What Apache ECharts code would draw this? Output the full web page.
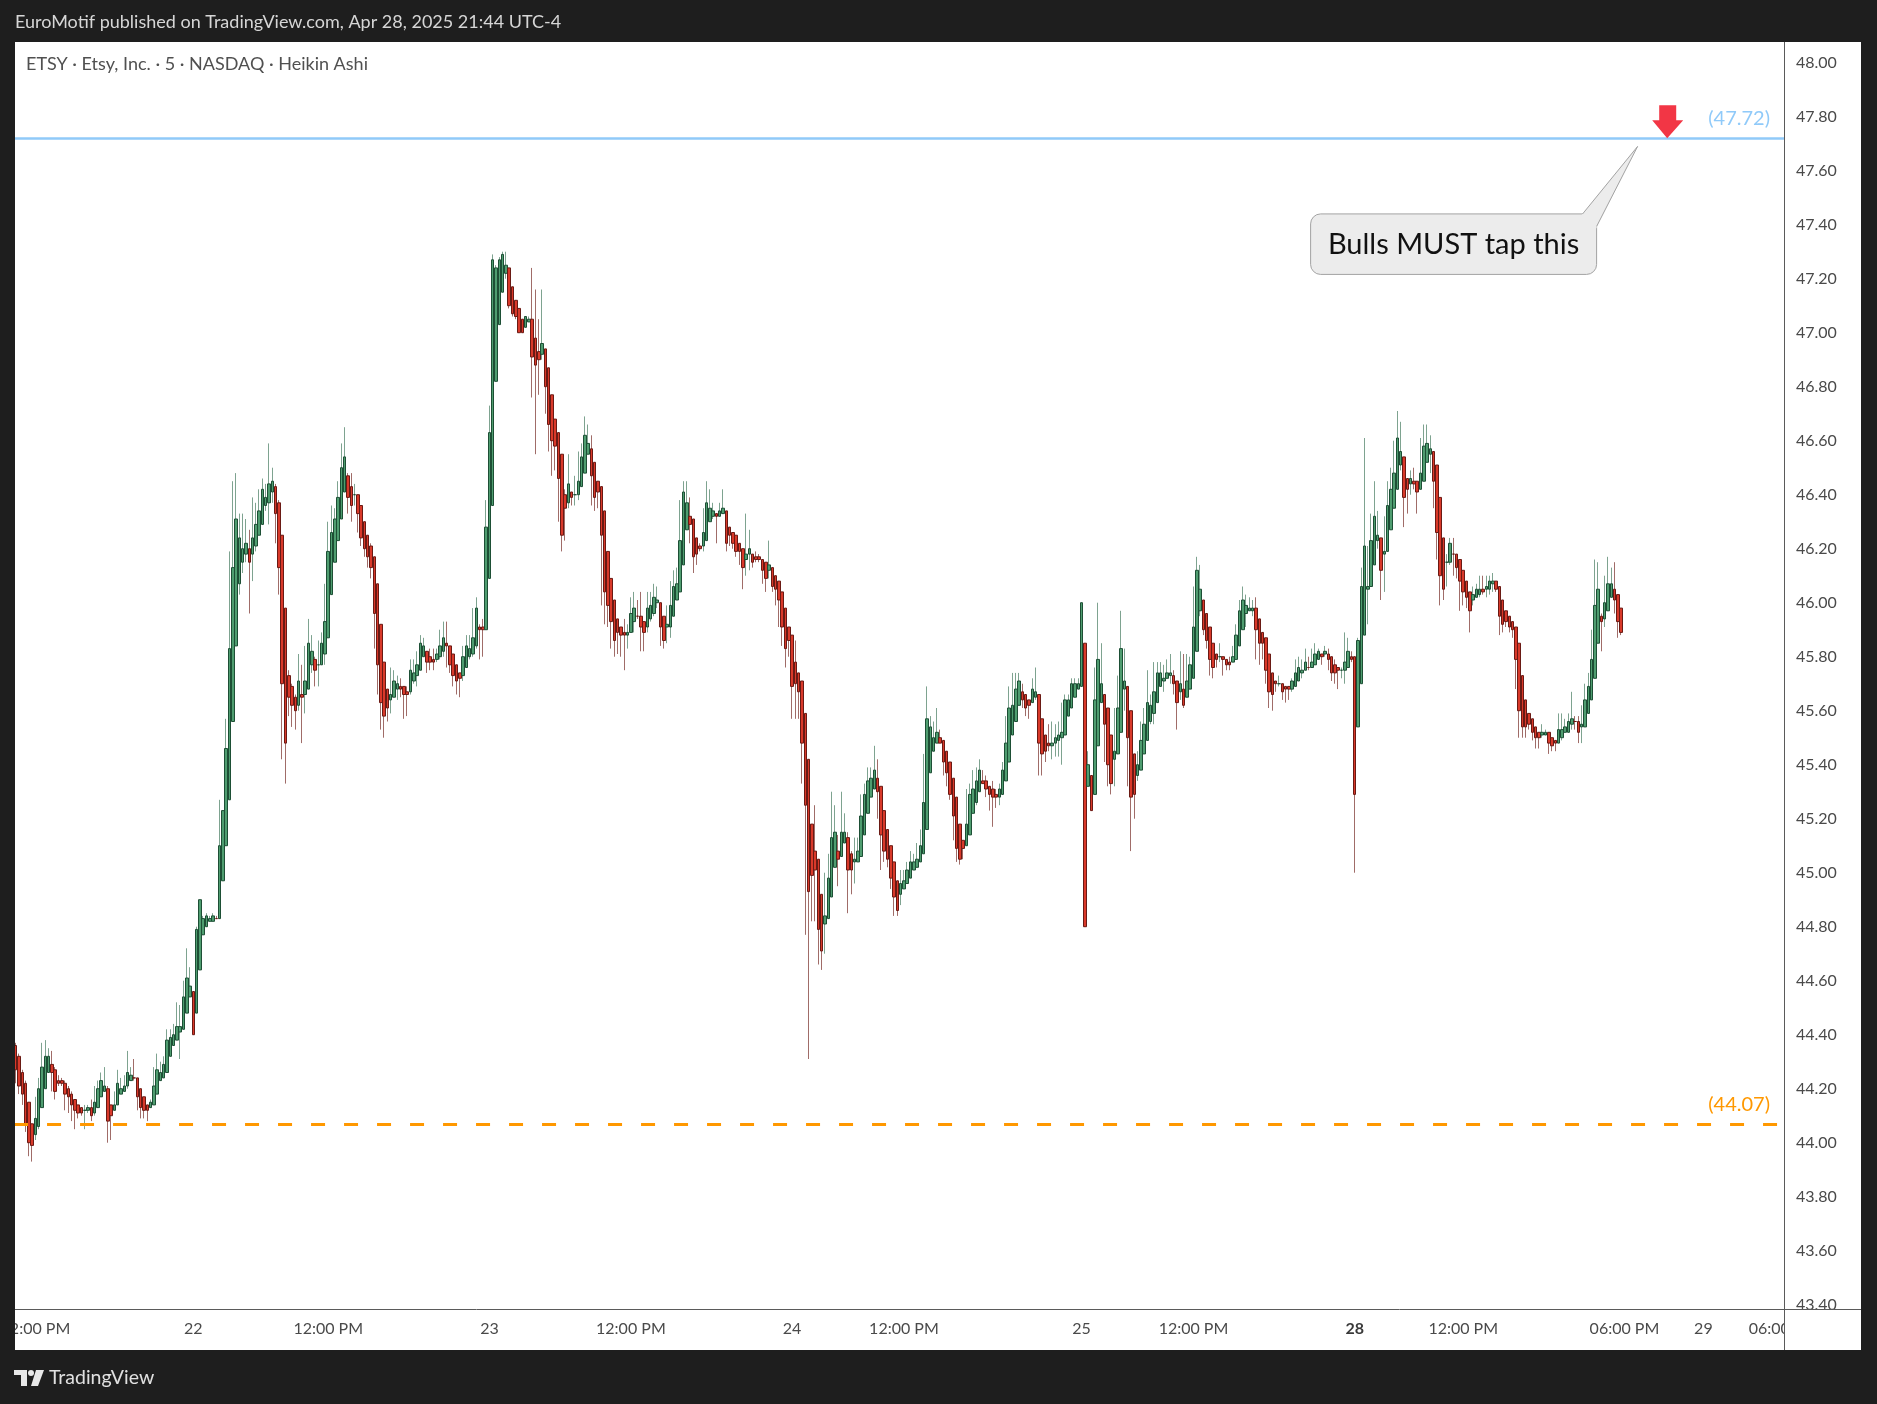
<!DOCTYPE html>
<html><head><meta charset="utf-8">
<script src="https://cdn.jsdelivr.net/npm/echarts@6.0.0/dist/echarts.min.js"></script>
<style>html,body{margin:0;padding:0;background:#1e1e1e;overflow:hidden}#chart{width:1877px;height:1404px}</style>
</head><body><div id="chart"></div>
<script>
// Heikin Ashi 5-min candles, each [open, close, low, high]
const apr21 = [
[44.36,44.27,44.22,44.37],[44.32,44.21,44.18,44.33],[44.26,44.18,44.14,44.27],[44.22,44.07,44.04,44.23],[44.15,44.00,43.95,44.15],
[44.07,43.99,43.93,44.07],[44.03,44.09,44.01,44.17],[44.06,44.20,44.05,44.24],[44.13,44.28,44.13,44.37],[44.20,44.32,44.20,44.38],
[44.26,44.32,44.26,44.35],[44.29,44.26,44.19,44.34],[44.27,44.19,44.16,44.28],[44.23,44.22,44.21,44.25],[44.23,44.22,44.21,44.24],
[44.22,44.18,44.12,44.23],[44.20,44.17,44.11,44.21],[44.18,44.14,44.08,44.19],[44.16,44.12,44.05,44.16],[44.14,44.11,44.09,44.14],
[44.13,44.11,44.10,44.13],[44.12,44.12,44.05,44.14],[44.12,44.13,44.11,44.14],[44.13,44.10,44.08,44.16],[44.11,44.15,44.10,44.21],
[44.13,44.20,44.13,44.23],[44.17,44.23,44.17,44.26],[44.19,44.21,44.19,44.28],[44.20,44.08,44.00,44.21],[44.14,44.10,44.01,44.14],
[44.12,44.14,44.12,44.19],[44.14,44.22,44.14,44.27],[44.18,44.20,44.18,44.24],[44.19,44.21,44.19,44.25],[44.21,44.26,44.20,44.34],
[44.23,44.25,44.23,44.28],[44.24,44.24,44.23,44.31],[44.24,44.17,44.12,44.24],[44.20,44.13,44.09,44.20],[44.17,44.12,44.09,44.17],
[44.14,44.12,44.08,44.14],[44.13,44.15,44.13,44.16],[44.14,44.21,44.14,44.28],[44.18,44.27,44.18,44.33],[44.23,44.26,44.23,44.30],
[44.24,44.29,44.24,44.32],[44.26,44.38,44.26,44.42],[44.32,44.39,44.32,44.42],[44.36,44.40,44.36,44.44],[44.38,44.43,44.38,44.52],
[44.41,44.43,44.31,44.51],[44.42,44.54,44.42,44.60],[44.48,44.61,44.48,44.72],[44.54,44.58,44.54,44.65]
];
const apr22 = [
[44.56,44.40,44.40,44.56],[44.48,44.79,44.48,44.80],[44.64,44.90,44.64,44.90],[44.77,44.83,44.77,44.84],[44.80,44.84,44.80,44.85],
[44.82,44.83,44.82,44.84],[44.82,44.84,44.82,44.85],[44.83,44.83,44.83,44.84],[44.83,45.10,44.83,45.27],[44.97,45.23,44.97,45.23],
[45.10,45.46,45.10,45.57],[45.27,45.83,45.27,46.19],[45.56,46.13,45.56,46.45],[45.84,46.31,45.84,46.48],[46.07,46.24,46.03,46.33],
[46.15,46.20,46.11,46.33],[46.18,46.22,46.15,46.31],[46.20,46.15,45.96,46.27],[46.18,46.24,46.08,46.39],[46.21,46.29,46.19,46.37],
[46.25,46.34,46.25,46.42],[46.29,46.42,46.29,46.46],[46.36,46.39,46.34,46.44],[46.37,46.44,46.29,46.59],[46.41,46.45,46.37,46.50],
[46.43,46.33,46.22,46.44],[46.37,46.13,46.03,46.38],[46.25,45.70,45.42,46.25],[45.98,45.48,45.33,45.98],[45.73,45.65,45.58,45.75],
[45.69,45.62,45.54,45.70],[45.65,45.60,45.53,45.66],[45.62,45.71,45.60,45.81],[45.66,45.65,45.48,45.77],[45.66,45.71,45.59,45.84],
[45.68,45.85,45.68,45.94],[45.77,45.82,45.74,45.88],[45.79,45.75,45.69,45.80],[45.77,45.77,45.69,45.86],[45.77,45.85,45.77,45.89],
[45.81,45.93,45.77,46.07],[45.87,46.19,45.87,46.30],[46.03,46.26,46.03,46.36],[46.15,46.31,46.15,46.35],[46.23,46.39,46.23,46.45],
[46.31,46.50,46.31,46.59],[46.41,46.54,46.41,46.65],[46.47,46.39,46.33,46.48],[46.43,46.36,46.30,46.48],[46.40,46.40,46.36,46.44],
[46.40,46.33,46.26,46.40],[46.36,46.24,46.21,46.36],[46.30,46.20,46.17,46.30],[46.25,46.17,46.13,46.25],[46.21,46.13,46.09,46.22],
[46.17,45.96,45.83,46.17],[46.07,45.77,45.66,46.07],[45.92,45.63,45.53,45.92],[45.78,45.58,45.50,45.78],[45.68,45.61,45.56,45.68],
[45.64,45.66,45.59,45.76],[45.65,45.71,45.65,45.75],[45.68,45.70,45.64,45.73],[45.69,45.68,45.65,45.72],[45.69,45.66,45.57,45.69],
[45.67,45.66,45.58,45.69],[45.67,45.75,45.66,45.79],[45.71,45.74,45.70,45.79],[45.73,45.77,45.69,45.82],[45.75,45.85,45.75,45.88],
[45.80,45.84,45.80,45.87],[45.82,45.78,45.74,45.82],[45.80,45.78,45.75,45.83],[45.79,45.78,45.75,45.83],[45.79,45.81,45.78,45.83],
[45.80,45.84,45.79,45.90],[45.82,45.87,45.80,45.93],[45.85,45.84,45.76,45.93],[45.84,45.77,45.74,45.84],[45.81,45.73,45.69,45.81],
[45.77,45.71,45.66,45.77],[45.74,45.72,45.65,45.74],[45.73,45.80,45.71,45.84],[45.76,45.84,45.76,45.88],[45.80,45.83,45.79,45.88],
[45.81,45.87,45.80,45.98],[45.84,45.98,45.83,46.02],[45.91,45.90,45.79,45.92],[45.91,45.90,45.80,45.94],[45.90,46.28,45.90,46.38]
];
const apr23 = [
[46.09,46.63,46.09,46.73],[46.36,47.27,46.36,47.29],[46.82,47.24,46.82,47.25],[47.03,47.27,47.03,47.28],[47.15,47.29,47.15,47.30],
[47.22,47.25,47.20,47.30],[47.24,47.10,47.09,47.24],[47.17,47.07,47.06,47.17],[47.12,47.06,47.05,47.12],[47.09,47.00,47.00,47.09],
[47.05,47.00,47.00,47.05],[47.02,47.06,47.02,47.06],[47.04,47.05,47.04,47.06],[47.05,46.91,46.76,47.24],[46.98,46.88,46.55,47.16],
[46.93,46.90,46.77,47.05],[46.92,46.96,46.90,47.16],[46.94,46.80,46.70,46.94],[46.87,46.66,46.56,46.87],[46.77,46.60,46.47,46.77],
[46.68,46.58,46.49,46.68],[46.63,46.46,46.30,46.63],[46.55,46.25,46.19,46.55],[46.40,46.35,46.23,46.42],[46.37,46.44,46.35,46.55],
[46.41,46.39,46.36,46.41],[46.40,46.40,46.36,46.47],[46.40,46.45,46.38,46.56],[46.43,46.54,46.43,46.59],[46.48,46.62,46.48,46.69],
[46.55,46.59,46.55,46.66],[46.57,46.47,46.36,46.62],[46.52,46.39,46.34,46.52],[46.45,46.41,46.35,46.45],[46.43,46.25,45.99,46.43],
[46.34,46.04,45.92,46.34],[46.19,45.99,45.91,46.19],[46.09,45.93,45.83,46.09],[46.01,45.86,45.80,46.01],[45.94,45.89,45.81,45.94],
[45.91,45.88,45.80,45.91],[45.89,45.88,45.75,45.94],[45.88,45.89,45.83,45.92],[45.89,45.96,45.89,46.02],[45.93,45.98,45.89,46.04],
[45.95,45.95,45.94,46.01],[45.95,45.91,45.82,46.04],[45.93,45.89,45.82,45.93],[45.91,45.98,45.89,46.04],[45.94,45.99,45.93,46.04],
[45.96,46.02,45.95,46.07],[46.00,46.01,45.98,46.06],[46.00,45.91,45.84,46.00],[45.95,45.86,45.83,45.95],[45.91,45.92,45.85,45.99],
[45.91,45.99,45.87,46.08],[45.95,46.06,45.95,46.12],[46.01,46.07,46.01,46.13],[46.04,46.23,46.04,46.38],[46.14,46.41,46.14,46.45],
[46.27,46.37,46.27,46.45],[46.32,46.29,46.22,46.39],[46.31,46.17,46.11,46.31],[46.24,46.18,46.14,46.24],[46.21,46.20,46.19,46.22],
[46.21,46.26,46.19,46.35],[46.23,46.37,46.23,46.45],[46.30,46.35,46.30,46.42],[46.32,46.34,46.31,46.37],[46.33,46.32,46.22,46.33],
[46.32,46.34,46.32,46.37],[46.33,46.35,46.33,46.42],[46.34,46.22,46.19,46.34],[46.28,46.25,46.21,46.28],[46.26,46.22,46.20,46.26],
[46.25,46.19,46.17,46.25],[46.22,46.19,46.14,46.22],[46.20,46.13,46.05,46.20],[46.16,46.18,46.10,46.33],[46.18,46.20,46.12,46.27],
[46.18,46.15,46.13,46.18],[46.17,46.16,46.15,46.19],[46.17,46.16,46.15,46.18],[46.16,46.12,46.07,46.16],[46.15,46.09,46.04,46.15],
[46.12,46.14,46.09,46.23],[46.13,46.06,46.04,46.13],[46.10,46.05,45.99,46.10],[46.08,46.01,45.91,46.08],[46.04,45.91,45.84,46.04],
[45.98,45.83,45.76,45.98],[45.91,45.86,45.80,45.91]
];
const apr24 = [
[45.88,45.69,45.57,45.88],[45.78,45.70,45.57,45.86],[45.74,45.67,45.57,45.74],[45.71,45.48,45.33,45.71],[45.59,45.25,44.77,45.59],
[45.42,44.93,44.31,45.42],[45.18,44.99,44.82,45.18],[45.08,45.01,44.82,45.25],[45.05,44.79,44.66,45.05],[44.92,44.71,44.64,44.92],
[44.81,44.84,44.70,45.00],[44.83,44.98,44.83,45.07],[44.91,45.13,44.91,45.30],[45.02,45.15,45.02,45.25],[45.08,45.05,44.95,45.14],
[45.06,45.15,45.06,45.30],[45.11,45.15,45.11,45.22],[45.13,45.01,44.85,45.15],[45.07,45.01,44.92,45.08],[45.04,45.05,44.96,45.13],
[45.04,45.08,45.04,45.13],[45.06,45.21,45.06,45.29],[45.14,45.29,45.14,45.33],[45.22,45.34,45.22,45.39],[45.28,45.35,45.28,45.39],
[45.31,45.38,45.31,45.47],[45.35,45.30,45.20,45.42],[45.32,45.14,45.01,45.32],[45.23,45.08,45.04,45.23],[45.16,45.05,45.02,45.16],
[45.10,44.98,44.94,45.10],[45.04,44.91,44.84,45.04],[44.97,44.86,44.84,44.97],[44.92,44.96,44.88,45.01],[44.94,44.97,44.94,45.01],
[44.96,45.01,44.96,45.04],[44.98,45.04,44.98,45.08],[45.01,45.04,45.01,45.07],[45.02,45.05,45.02,45.11],[45.04,45.10,45.04,45.16],
[45.07,45.26,45.07,45.44],[45.16,45.57,45.16,45.69],[45.37,45.54,45.37,45.58],[45.45,45.50,45.45,45.56],[45.48,45.52,45.48,45.61],
[45.50,45.48,45.48,45.53],[45.49,45.41,45.36,45.49],[45.45,45.37,45.32,45.45],[45.41,45.29,45.27,45.41],[45.35,45.21,45.12,45.35],
[45.28,45.09,45.04,45.28],[45.18,45.05,45.03,45.18],[45.12,45.09,45.05,45.12],[45.10,45.18,45.10,45.31],[45.14,45.29,45.14,45.33],
[45.22,45.31,45.22,45.38],[45.26,45.34,45.25,45.39],[45.30,45.38,45.30,45.42],[45.34,45.33,45.33,45.38],[45.34,45.31,45.28,45.36],
[45.32,45.29,45.23,45.32],[45.31,45.28,45.17,45.34],[45.29,45.28,45.24,45.31],[45.28,45.31,45.25,45.33],[45.29,45.38,45.29,45.41],
[45.34,45.48,45.34,45.58],[45.41,45.61,45.41,45.69],[45.51,45.62,45.51,45.74],[45.56,45.68,45.56,45.74],[45.62,45.71,45.62,45.74],
[45.67,45.64,45.61,45.70],[45.66,45.61,45.58,45.66],[45.64,45.62,45.57,45.64],[45.63,45.68,45.63,45.72],[45.65,45.67,45.64,45.76],
[45.66,45.48,45.36,45.66],[45.57,45.44,45.36,45.57],[45.51,45.45,45.41,45.51],[45.48,45.47,45.45,45.55],[45.47,45.48,45.42,45.56],
[45.48,45.50,45.43,45.55],[45.49,45.51,45.43,45.56],[45.50,45.52,45.40,45.63],[45.51,45.64,45.51,45.66],[45.58,45.64,45.58,45.66],
[45.61,45.70,45.61,45.72],[45.65,45.70,45.65,45.72],[45.68,45.70,45.68,45.72]
];
const apr25 = [
[45.69,46.00,45.69,46.00],[45.85,44.80,44.80,45.85],[45.32,45.40,45.32,45.45],[45.36,45.23,45.23,45.36],[45.29,45.64,45.29,45.76],
[45.47,45.79,45.47,46.00],[45.63,45.70,45.63,45.85],[45.66,45.55,45.41,45.66],[45.61,45.40,45.32,45.61],[45.51,45.33,45.29,45.51],
[45.42,45.45,45.32,45.61],[45.44,45.61,45.44,45.73],[45.52,45.83,45.52,45.97],[45.68,45.71,45.60,45.83],[45.69,45.50,45.32,45.69],
[45.60,45.28,45.08,45.60],[45.44,45.29,45.20,45.44],[45.36,45.40,45.34,45.45],[45.38,45.49,45.38,45.56],[45.44,45.55,45.44,45.61],
[45.49,45.63,45.49,45.75],[45.56,45.62,45.55,45.66],[45.59,45.67,45.55,45.78],[45.63,45.74,45.63,45.78],[45.69,45.74,45.69,45.78],
[45.71,45.72,45.67,45.77],[45.72,45.74,45.72,45.79],[45.73,45.74,45.70,45.81],[45.73,45.70,45.66,45.75],[45.71,45.63,45.53,45.71],
[45.67,45.70,45.64,45.82],[45.68,45.62,45.61,45.81],[45.65,45.71,45.65,45.81],[45.68,45.77,45.68,45.80],[45.72,45.91,45.72,46.06],
[45.82,46.12,45.82,46.17],[45.97,46.05,45.95,46.14],[46.01,45.90,45.88,46.01],[45.96,45.86,45.83,45.96],[45.91,45.79,45.73,45.91],
[45.85,45.76,45.72,45.85],[45.81,45.79,45.76,45.81],[45.80,45.80,45.78,45.85],[45.80,45.79,45.73,45.80],[45.79,45.77,45.75,45.79],
[45.78,45.77,45.75,45.80],[45.78,45.80,45.78,45.84],[45.79,45.88,45.79,45.92],[45.84,45.97,45.84,46.01],[45.90,46.01,45.90,46.06],
[45.96,45.99,45.91,46.03],[45.97,45.98,45.97,46.02],[45.97,45.98,45.95,46.01],[45.98,45.90,45.79,46.02],[45.94,45.85,45.77,45.94],
[45.89,45.85,45.79,45.89],[45.87,45.75,45.70,45.87],[45.81,45.67,45.61,45.81],[45.74,45.66,45.60,45.74],[45.71,45.70,45.67,45.71],
[45.70,45.70,45.69,45.73],[45.70,45.67,45.64,45.70],[45.69,45.68,45.63,45.69],[45.69,45.68,45.64,45.69],[45.68,45.71,45.67,45.72],
[45.69,45.74,45.69,45.79],[45.71,45.76,45.71,45.80],[45.74,45.75,45.72,45.79],[45.75,45.78,45.75,45.83],[45.76,45.76,45.75,45.80],
[45.76,45.78,45.76,45.83],[45.77,45.81,45.77,45.85],[45.79,45.82,45.79,45.83],[45.81,45.80,45.77,45.81],[45.81,45.82,45.80,45.84],
[45.81,45.79,45.75,45.83],[45.80,45.74,45.71,45.80],[45.77,45.74,45.70,45.79],[45.76,45.75,45.68,45.76],[45.75,45.75,45.72,45.76],
[45.75,45.78,45.70,45.89],[45.76,45.82,45.76,45.87],[45.80,45.79,45.78,45.82]
];
const apr28 = [
[45.80,45.29,45.00,45.80],[45.54,45.86,45.54,45.87],[45.70,46.06,45.70,46.13],[45.88,46.21,45.88,46.61],[46.05,46.06,45.92,46.21],
[46.06,46.23,46.06,46.33],[46.14,46.32,46.14,46.45],[46.23,46.25,46.20,46.34],[46.24,46.12,46.01,46.24],[46.18,46.19,46.04,46.32],
[46.19,46.36,46.19,46.45],[46.27,46.42,46.27,46.50],[46.35,46.48,46.35,46.60],[46.42,46.61,46.42,46.71],[46.51,46.56,46.49,46.67],
[46.54,46.39,46.28,46.54],[46.46,46.42,46.33,46.46],[46.44,46.46,46.40,46.49],[46.45,46.44,46.42,46.50],[46.45,46.41,46.33,46.45],
[46.42,46.48,46.42,46.61],[46.45,46.58,46.45,46.66],[46.52,46.59,46.52,46.66],[46.55,46.57,46.48,46.62],[46.56,46.45,46.35,46.56],
[46.51,46.26,46.16,46.51],[46.39,46.10,45.99,46.39],[46.24,46.05,46.01,46.24],[46.15,46.15,46.06,46.18],[46.15,46.22,46.14,46.24],
[46.18,46.18,46.10,46.24],[46.18,46.13,46.09,46.18],[46.16,46.08,45.97,46.16],[46.12,46.04,45.99,46.12],[46.08,46.02,45.98,46.08],
[46.04,45.97,45.89,46.04],[46.01,46.03,45.99,46.06],[46.02,46.05,46.02,46.07],[46.03,46.05,46.02,46.10],[46.05,46.04,46.03,46.10],
[46.05,46.06,46.02,46.10],[46.05,46.08,46.03,46.10],[46.07,46.08,46.04,46.11],[46.08,46.05,46.04,46.08],[46.06,45.95,45.88,46.06],
[46.01,45.92,45.89,46.01],[45.97,45.93,45.91,45.97],[45.95,45.91,45.89,45.95],[45.93,45.90,45.87,45.93],[45.91,45.79,45.68,45.91],
[45.85,45.60,45.50,45.85],[45.73,45.54,45.50,45.73],[45.64,45.54,45.50,45.64],[45.59,45.55,45.53,45.59],[45.57,45.52,45.49,45.57],
[45.54,45.50,45.46,45.54],[45.52,45.50,45.46,45.52],[45.51,45.52,45.50,45.55],[45.51,45.52,45.51,45.53],[45.52,45.48,45.44,45.52],
[45.50,45.47,45.45,45.50],[45.49,45.48,45.45,45.49],[45.48,45.53,45.48,45.59],[45.50,45.53,45.49,45.59],[45.52,45.54,45.52,45.57],
[45.52,45.56,45.52,45.59],[45.55,45.57,45.53,45.67],[45.56,45.56,45.53,45.58],[45.56,45.52,45.48,45.58],[45.54,45.55,45.48,45.62],
[45.54,45.64,45.54,45.70],[45.59,45.69,45.59,45.74],[45.64,45.79,45.64,45.90],[45.72,45.99,45.72,46.16],[45.85,46.05,45.85,46.15],
[45.95,45.93,45.82,45.96],[45.94,46.00,45.91,46.10],[45.97,46.07,45.97,46.17],[46.02,46.07,46.02,46.13],[46.05,46.01,45.96,46.15],
[46.03,45.93,45.87,46.03],[45.98,45.89,45.88,45.98]
];
const dayLabels = ['21', '22', '23', '24', '25', '28'];
const dayBars = [apr21, apr22, apr23, apr24, apr25, apr28];
// intraday / future time tick labels: [bar slot, text]
const timeTicks = [[6,'12:00 PM'],[95,'12:00 PM'],[187,'12:00 PM'],[270,'12:00 PM'],[358,'12:00 PM'],[440,'12:00 PM'],[489,'06:00 PM'],[513,'29'],[533,'06:00']];
const totalSlots = 538;
const levelHigh = 47.72;
const levelLow = 44.07;
const calloutText = 'Bulls MUST tap this';
const titleText = 'EuroMotif published on TradingView.com, Apr 28, 2025 21:44 UTC-4';
const symbolText = 'ETSY \u00b7 Etsy, Inc. \u00b7 5 \u00b7 NASDAQ \u00b7 Heikin Ashi';

const candles = [].concat(...dayBars);
const bodies = candles.map(d => [d[0], d[1], Math.min(d[0], d[1]), Math.max(d[0], d[1])]);
const labelAt = new Array(totalSlots).fill('');
let start = 0;
dayBars.forEach((arr, i) => { if (i > 0) labelAt[start] = dayLabels[i]; start += arr.length; });
timeTicks.forEach(t => { labelAt[t[0]] = t[1]; });
const cats = labelAt.map((_, i) => 'b' + i);

const FONT = 'Lato';
const GL = 14.05, GR = 1784, GT = 42, GB = 1309;
const YMAX = 48.0767, YMIN = 43.3841;
const UP_FILL = '#4f9d70', UP_BORDER = '#1d4f35', DN_FILL = '#d9392a', DN_BORDER = '#6a1a14';
const UP_WICK = '#7ea390', DN_WICK = '#a06c68';

const chart = echarts.init(document.getElementById('chart'), null, {renderer: 'canvas', width: 1877, height: 1404});
chart.setOption({
  animation: false,
  backgroundColor: '#ffffff',
  grid: {left: GL, right: 1877 - GR, top: GT, bottom: 1404 - GB, containLabel: false, outerBoundsMode: 'none'},
  xAxis: {
    type: 'category', data: cats, boundaryGap: true,
    axisLine: {show: false}, axisTick: {show: false}, splitLine: {show: false},
    axisLabel: {
      interval: (i) => labelAt[i] !== '', hideOverlap: false,
      formatter: (v, i) => labelAt[i] === '28' ? '{b|28}' : labelAt[i],
      color: '#4a4a4a', fontSize: 16, fontFamily: FONT, margin: 12,
      rich: {b: {fontWeight: 'bold', color: '#3a3a3a', fontSize: 16, fontFamily: FONT}}
    }
  },
  yAxis: {
    type: 'value', position: 'right', min: YMIN, max: YMAX, minInterval: 0.2, maxInterval: 0.2,
    axisLine: {show: false}, axisTick: {show: false}, splitLine: {show: false},
    axisLabel: {formatter: v => v.toFixed(2), showMinLabel: false, showMaxLabel: false, margin: 12, color: '#4a4a4a', fontSize: 16, fontFamily: FONT}
  },
  series: [
    {
      type: 'candlestick', name: 'wicks', data: candles, barWidth: 1, silent: true,
      itemStyle: {color: UP_WICK, color0: DN_WICK, borderColor: UP_WICK, borderColor0: DN_WICK, borderWidth: 1},
      markLine: {
        symbol: 'none', silent: true, animation: false, label: {show: false},
        data: [
          {yAxis: levelHigh, lineStyle: {color: '#90caf9', width: 2.5, type: 'solid'}},
          {yAxis: levelLow, lineStyle: {color: '#ff9800', width: 3, type: [14, 19]}}
        ]
      }
    },
    {
      type: 'candlestick', name: 'bodies', data: bodies, barWidth: 3, silent: true,
      itemStyle: {color: UP_FILL, color0: DN_FILL, borderColor: UP_BORDER, borderColor0: DN_BORDER, borderWidth: 1}
    }
  ]
});

const yHigh = chart.convertToPixel({yAxisIndex: 0}, levelHigh);
const yLow = chart.convertToPixel({yAxisIndex: 0}, levelLow);
const tip = chart.convertToPixel({gridIndex: 0}, [502, levelHigh]);
const ct = chart.convertToPixel({gridIndex: 0}, [493, 47.69]);
const tx = tip[0], ty = tip[1];
const cx = ct[0], cy = ct[1];
const DARK = '#1e1e1e';

chart.setOption({
  graphic: [
    // chrome frame
    {type: 'rect', z: 100, shape: {x: 0, y: 0, width: 1877, height: 42}, style: {fill: DARK}},
    {type: 'rect', z: 100, shape: {x: 0, y: 0, width: 15, height: 1404}, style: {fill: DARK}},
    {type: 'rect', z: 100, shape: {x: 1861, y: 0, width: 16, height: 1404}, style: {fill: DARK}},
    {type: 'rect', z: 100, shape: {x: 0, y: 1350, width: 1877, height: 54}, style: {fill: DARK}},
    {type: 'rect', z: 99, shape: {x: 1785, y: 1310, width: 76, height: 40}, style: {fill: '#ffffff'}},
    {type: 'line', z: 101, shape: {x1: 15, y1: 1309.5, x2: 1861, y2: 1309.5}, style: {stroke: '#5a5a5a', lineWidth: 1}},
    {type: 'line', z: 101, shape: {x1: 1784.5, y1: 42, x2: 1784.5, y2: 1350}, style: {stroke: '#5a5a5a', lineWidth: 1}},
    {type: 'text', z: 102, style: {x: 15, y: 22, text: titleText, fill: '#d6d6d6', font: '18px ' + FONT, textVerticalAlign: 'middle'}},
    {type: 'text', z: 102, style: {x: 26, y: 64, text: symbolText, fill: '#505050', font: '18px ' + FONT, textVerticalAlign: 'middle'}},
    // TradingView logo
    {type: 'rect', z: 102, shape: {x: 14, y: 1370, width: 13, height: 5}, style: {fill: '#e8e8e8'}},
    {type: 'rect', z: 102, shape: {x: 21, y: 1370, width: 6, height: 16}, style: {fill: '#e8e8e8'}},
    {type: 'circle', z: 102, shape: {cx: 31, cy: 1373, r: 3}, style: {fill: '#e8e8e8'}},
    {type: 'polygon', z: 102, shape: {points: [[36, 1370], [44, 1370], [38, 1386], [31, 1386]]}, style: {fill: '#e8e8e8'}},
    {type: 'text', z: 102, style: {x: 49, y: 1378, text: 'TradingView', fill: '#e0e0e0', font: '19.5px ' + FONT, textVerticalAlign: 'middle'}},
    // level labels
    {type: 'text', z: 50, style: {x: GR - 14, y: yHigh - 10, text: '(' + levelHigh.toFixed(2) + ')', fill: '#90caf9', font: '20px ' + FONT, textAlign: 'right', textVerticalAlign: 'bottom'}},
    {type: 'text', z: 50, style: {x: GR - 14, y: yLow - 9, text: '(' + levelLow.toFixed(2) + ')', fill: '#ff9800', font: '20px ' + FONT, textAlign: 'right', textVerticalAlign: 'bottom'}},
    // red arrow
    {type: 'polygon', z: 50, shape: {points: [[tx - 8, ty - 33], [tx + 9, ty - 33], [tx + 9, ty - 18], [tx + 16, ty - 18], [tx, ty], [tx - 15, ty - 18], [tx - 8, ty - 18]]}, style: {fill: '#f23645'}},
    // callout
    {type: 'rect', z: 50, shape: {x: cx - 327, y: cy + 67.5, width: 286, height: 60.5, r: 10}, style: {fill: '#ececec', stroke: '#a3a3a3', lineWidth: 1}},
    {type: 'polygon', z: 51, shape: {points: [[cx - 56, cy + 68.5], [cx, cy], [cx - 41.5, cy + 82]]}, style: {fill: '#ececec'}},
    {type: 'polyline', z: 52, shape: {points: [[cx - 55, cy + 67.5], [cx, cy], [cx - 41, cy + 80]]}, style: {stroke: '#a3a3a3', lineWidth: 1, fill: null}},
    {type: 'text', z: 53, style: {x: cx - 184, y: cy + 98, text: calloutText, fill: '#111111', font: '29px ' + FONT, textAlign: 'center', textVerticalAlign: 'middle'}}
  ]
});
</script>
</body></html>
